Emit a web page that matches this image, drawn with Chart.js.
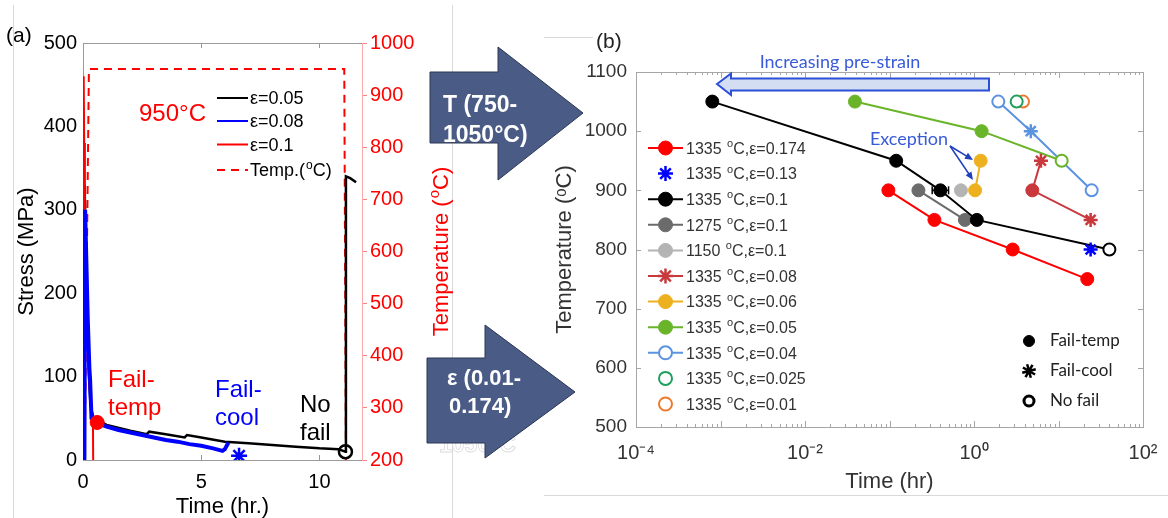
<!DOCTYPE html>
<html>
<head>
<meta charset="utf-8">
<script src="https://cdn.jsdelivr.net/npm/chart.js@4.4.1/dist/chart.umd.min.js"></script>
<style>
  html, body { margin: 0; padding: 0; background: #fff; overflow: hidden; }
  #page { position: relative; width: 1168px; height: 518px; }
  canvas { position: absolute; top: 0; }
  #chartA { left: 0; }
  #chartB { left: 540px; }
  .rule { position: absolute; background: #d9d9d9; }
  svg { position: absolute; left: 0; top: 0; }
</style>
</head>
<body>
<div id="page">
  <div class="rule" style="left:13px;top:5px;width:1px;height:513px"></div>
  <div class="rule" style="left:452px;top:5px;width:1px;height:513px"></div>
  <div class="rule" style="left:544px;top:37px;width:49px;height:1px"></div>
  <div class="rule" style="left:544px;top:495px;width:624px;height:1px"></div>
  <canvas id="chartA" width="455" height="518"></canvas>
  <canvas id="chartB" width="628" height="518"></canvas>
  <svg width="1168" height="518" font-family="'Liberation Sans', Arial, sans-serif">
    <text x="439" y="452" font-size="23" font-weight="bold" fill="#ffffff" stroke="#dcdcdc" stroke-width="0.8">1050°C</text>
    <polygon points="430,72 498,72 498,47 583,113 498,180 498,143 430,143" fill="#4a5c86" stroke="#2c3752" stroke-width="1"/>
    <text x="443" y="112" font-size="23" font-weight="bold" fill="#ffffff">T (750-</text>
    <text x="443" y="142" font-size="23" font-weight="bold" fill="#ffffff">1050°C)</text>
    <polygon points="427,358 485,358 485,325 575,392 485,458 485,443 427,443" fill="#4a5c86" stroke="#2c3752" stroke-width="1"/>
    <text x="447" y="385" font-size="22" font-weight="bold" fill="#ffffff">ε (0.01-</text>
    <text x="449" y="413" font-size="22" font-weight="bold" fill="#ffffff">0.174)</text>
  </svg>
</div>
<script>
// ================= Panel (a): stress relaxation and furnace temperature =================
const timeTicksA = [0, 5, 10];
const stressTicks = [0, 100, 200, 300, 400, 500];
const tempTicksA = [200, 300, 400, 500, 600, 700, 800, 900, 1000];

const strain005Time   = [0.03, 0.07, 0.12, 0.18, 0.25, 0.32, 0.45, 1.0, 2.0, 2.7, 2.8, 3.5, 4.3, 4.4, 5.0, 6.0, 7.0, 8.0, 9.0, 10.0, 10.8, 11.1, 11.12, 11.3, 11.55];
const strain005Stress = [0, 330, 240, 160, 100, 65, 50, 42, 35, 31, 34, 31, 27, 30, 27, 22, 20, 18, 16, 14, 13, 10, 340, 338, 333];

const strain008Time   = [0.06, 0.09, 0.14, 0.20, 0.27, 0.30, 0.36, 0.6, 1.0, 1.5, 2.0, 2.5, 3.0, 3.5, 4.0, 4.5, 5.0, 5.5, 5.9, 6.0, 6.15];
const strain008Stress = [0, 300, 240, 170, 110, 96, 50, 44, 40, 36, 33, 30, 27, 24, 22, 19, 17, 14, 11, 13, 21];

const strain01Time   = [0.00, 0.03, 0.05, 0.08, 0.13, 0.20, 0.26, 0.33, 0.42, 0.43];
const strain01Stress = [0, 460, 380, 300, 220, 150, 95, 65, 50, 0];

const furnaceTime = [0.07, 0.25, 11.05, 11.12];
const furnaceTemp = [200, 950, 950, 200];

const failTempTimeA = [0.6];
const failTempStressA = [45];
const failCoolTimeA = [6.6];
const failCoolStressA = [5];
const noFailTimeA = [11.1];
const noFailStressA = [10];

const legendLabelsA = ['ε=0.05', 'ε=0.08', 'ε=0.1', 'Temp.(ᵒC)'];

// ================= Panel (b): failure map, temperature vs time =================
const timeTicksB = [1e-4, 1e-2, 1, 1e2];
const timeTickLabelsB = ['10⁻⁴', '10⁻²', '10⁰', '10²'];
const tempTicksB = [500, 600, 700, 800, 900, 1000, 1100];

const s174Time = [0.097, 0.34, 2.87, 21.9];
const s174Temp = [900, 850, 800, 750];
const s174Outcome = ['temp', 'temp', 'temp', 'temp'];

const s13Time = [24];
const s13Temp = [800];
const s13Outcome = ['cool'];

const s10Time = [0.0008, 0.12, 0.40, 1.08, 40];
const s10Temp = [1050, 950, 900, 850, 800];
const s10Outcome = ['temp', 'temp', 'temp', 'temp', 'none'];

const s10ErrTime = [0.32, 0.50];
const s10ErrTemp = [900, 900];

const s1275Time = [0.22, 0.78];
const s1275Temp = [900, 850];
const s1275Outcome = ['temp', 'temp'];

const s1150Time = [0.70];
const s1150Temp = [900];
const s1150Outcome = ['temp'];

const s08Time = [6.2, 4.9, 24];
const s08Temp = [950, 900, 850];
const s08Outcome = ['cool', 'temp', 'cool'];

const s06Time = [1.2, 1.03];
const s06Temp = [950, 900];
const s06Outcome = ['temp', 'temp'];

const s05Time = [0.039, 1.23, 10.9];
const s05Temp = [1050, 1000, 950];
const s05Outcome = ['temp', 'temp', 'none'];

const s04Time = [1.94, 4.7, 24.7];
const s04Temp = [1050, 1000, 900];
const s04Outcome = ['none', 'cool', 'none'];

const s025Time = [3.2];
const s025Temp = [1050];
const s025Outcome = ['none'];

const s01Time = [3.8];
const s01Temp = [1050];
const s01Outcome = ['none'];

const seriesLabelsB = [
  '1335 ᵒC,ε=0.174', '1335 ᵒC,ε=0.13', '1335 ᵒC,ε=0.1', '1275 ᵒC,ε=0.1',
  '1150 ᵒC,ε=0.1', '1335 ᵒC,ε=0.08', '1335 ᵒC,ε=0.06', '1335 ᵒC,ε=0.05',
  '1335 ᵒC,ε=0.04', '1335 ᵒC,ε=0.025', '1335 ᵒC,ε=0.01'
];
const outcomeLabelsB = ['Fail-temp', 'Fail-cool', 'No fail'];

// ----------------------------------------------------------------
const SANS = "'Liberation Sans', Arial, Helvetica, sans-serif";
const HUMAN = "Lato, 'Open Sans', sans-serif";
const zip = (xs, ys) => xs.map((x, i) => ({ x, y: ys[i] }));
const fixTicks = (values) => (scale) => { scale.ticks = values.map(v => ({ value: v })); };
const plainNumber = (v) => String(v);

// text with a raised small "o" wherever the modifier letter ᵒ appears
function drawSupText(ctx, text, x, yMid, size, color, family, align) {
  ctx.save();
  ctx.fillStyle = color;
  ctx.textAlign = 'left';
  ctx.textBaseline = 'alphabetic';
  const base = yMid + size * 0.36;
  const supSize = Math.round(size * 0.68);
  const parts = text.split('ᵒ');
  let total = 0;
  parts.forEach((part, i) => {
    if (i > 0) { ctx.font = `${supSize}px ${family}`; total += ctx.measureText('o').width + 1; }
    ctx.font = `${size}px ${family}`; total += ctx.measureText(part).width;
  });
  let cx = align === 'center' ? x - total / 2 : x;
  parts.forEach((part, i) => {
    if (i > 0) {
      ctx.font = `${supSize}px ${family}`;
      ctx.fillText('o', cx + 1, base - size * 0.42);
      cx += ctx.measureText('o').width + 1;
    }
    ctx.font = `${size}px ${family}`;
    ctx.fillText(part, cx, base);
    cx += ctx.measureText(part).width;
  });
  ctx.restore();
}

// ---------------- panel (a) decorations ----------------
const panelAOverlay = {
  id: 'panelAOverlay',
  afterDraw(chart) {
    const { ctx, chartArea: a, scales } = chart;
    ctx.save();
    // top frame edge and inner x ticks
    ctx.strokeStyle = '#9a9a9a';
    ctx.lineWidth = 1;
    ctx.beginPath();
    ctx.moveTo(a.left, a.top + 0.5); ctx.lineTo(a.right, a.top + 0.5);
    timeTicksA.slice(1).forEach(v => {
      const px = Math.round(scales.x.getPixelForValue(v)) + 0.5;
      ctx.moveTo(px, a.top); ctx.lineTo(px, a.top + 5);
      ctx.moveTo(px, a.bottom); ctx.lineTo(px, a.bottom - 5);
    });
    ctx.stroke();

    // right-hand axis title, reading bottom to top
    ctx.save();
    ctx.translate(440, (a.top + a.bottom) / 2);
    ctx.rotate(-Math.PI / 2);
    drawSupText(ctx, 'Temperature (ᵒC)', 0, 0, 22, '#ff0000', SANS, 'center');
    ctx.restore();

    // panel tag
    ctx.fillStyle = '#000';
    ctx.font = `21px ${SANS}`;
    ctx.textBaseline = 'middle';
    ctx.fillText('(a)', 6, 36);

    // legend (line samples)
    const legendRows = [98, 121, 144.5, 170];
    chart.data.datasets.filter(d => d.legendIndex !== undefined).forEach(d => {
      const y = legendRows[d.legendIndex];
      ctx.save();
      ctx.strokeStyle = d.borderColor;
      ctx.lineWidth = 2;
      ctx.setLineDash(d.borderDash || []);
      ctx.beginPath(); ctx.moveTo(217, y); ctx.lineTo(248, y); ctx.stroke();
      ctx.restore();
      drawSupText(ctx, d.label, 250, y, 18, '#000', SANS);
    });

    // annotations
    ctx.textBaseline = 'alphabetic';
    ctx.font = `24px ${SANS}`;
    ctx.fillStyle = '#ff0000';
    ctx.fillText('950°C', 139, 121);
    ctx.fillText('Fail-', 108, 387);
    ctx.fillText('temp', 108, 415);
    ctx.fillStyle = '#0000ff';
    ctx.fillText('Fail-', 215, 397);
    ctx.fillText('cool', 215, 425);
    ctx.fillStyle = '#000';
    ctx.fillText('No', 300, 412);
    ctx.fillText('fail', 300, 440);
    ctx.restore();
  }
};

new Chart(document.getElementById('chartA'), {
  type: 'line',
  data: {
    datasets: [
      { label: 'Fail-temp', data: zip(failTempTimeA, failTempStressA), showLine: false, yAxisID: 'y',
        pointStyle: 'circle', pointRadius: 7, pointBackgroundColor: '#ff0000', pointBorderColor: '#ff0000', pointBorderWidth: 1 },
      { label: 'Fail-cool', data: zip(failCoolTimeA, failCoolStressA), showLine: false, yAxisID: 'y',
        pointStyle: 'star', pointRadius: 8, pointBackgroundColor: '#0000ff', pointBorderColor: '#0000ff', pointBorderWidth: 2.5 },
      { label: 'No fail', data: zip(noFailTimeA, noFailStressA), showLine: false, yAxisID: 'y',
        pointStyle: 'circle', pointRadius: 6.5, pointBackgroundColor: 'rgba(0,0,0,0)', pointBorderColor: '#000', pointBorderWidth: 2.5 },
      { label: legendLabelsA[1], legendIndex: 1, data: zip(strain008Time, strain008Stress), yAxisID: 'y',
        borderColor: '#0000ff', borderWidth: 4, pointRadius: 0 },
      { label: legendLabelsA[2], legendIndex: 2, data: zip(strain01Time, strain01Stress), yAxisID: 'y',
        borderColor: '#ff0000', borderWidth: 2, pointRadius: 0 },
      { label: legendLabelsA[0], legendIndex: 0, data: zip(strain005Time, strain005Stress), yAxisID: 'y',
        borderColor: '#000000', borderWidth: 2.5, pointRadius: 0 },
      { label: legendLabelsA[3], legendIndex: 3, data: zip(furnaceTime, furnaceTemp), yAxisID: 'y2',
        borderColor: '#ff0000', borderWidth: 2, borderDash: [8, 6], pointRadius: 0 }
    ]
  },
  options: {
    responsive: false,
    animation: false,
    devicePixelRatio: 1,
    layout: { padding: { top: 43, left: 0, right: 0, bottom: 0 } },
    elements: { line: { tension: 0 } },
    plugins: { legend: { display: false }, tooltip: { enabled: false } },
    scales: {
      x: {
        type: 'linear', min: 0, max: 11.8,
        afterBuildTicks: fixTicks(timeTicksA),
        afterFit: s => { s.height = 58; s.paddingLeft = 0; s.paddingRight = 0; },
        grid: { display: false, drawTicks: false },
        border: { display: true, color: '#9a9a9a' },
        ticks: { color: '#000', font: { family: SANS, size: 20 }, padding: 10, maxRotation: 0, callback: plainNumber },
        title: { display: true, text: 'Time (hr.)', color: '#000', font: { family: SANS, size: 22, lineHeight: 1 }, padding: 0 }
      },
      y: {
        position: 'left', min: 0, max: 500,
        afterBuildTicks: fixTicks(stressTicks),
        afterFit: s => { s.width = 83; },
        grid: { display: false, drawTicks: false },
        border: { display: true, color: '#9a9a9a' },
        ticks: { color: '#000', font: { family: SANS, size: 20 }, padding: 6, callback: plainNumber },
        title: { display: true, text: 'Stress (MPa)', color: '#000', font: { family: SANS, size: 22 }, padding: { top: 14, bottom: 0 } }
      },
      y2: {
        position: 'right', min: 200, max: 1000,
        afterBuildTicks: fixTicks(tempTicksA),
        afterFit: s => { s.width = 93; },
        grid: { display: true, drawOnChartArea: false, drawTicks: true, tickLength: 5, color: '#ff8080' },
        border: { display: true, color: '#ffaaaa' },
        ticks: { color: '#ff0000', font: { family: SANS, size: 20 }, padding: 3, callback: plainNumber },
        title: { display: false }
      }
    }
  },
  plugins: [panelAOverlay]
});

// ---------------- panel (b) ----------------
const markerFor = (outcome, color) => {
  if (outcome === 'temp') return { style: 'circle', radius: 6.5, bg: color, border: color, bw: 1 };
  if (outcome === 'cool') return { style: 'star', radius: 7, bg: color, border: color, bw: 2.5 };
  return { style: 'circle', radius: 6, bg: '#ffffff', border: color, bw: 2 };
};

const seriesB = [
  { label: seriesLabelsB[0], time: s174Time, temp: s174Temp, outcome: s174Outcome, color: '#ff0000', line: true },
  { label: seriesLabelsB[1], time: s13Time, temp: s13Temp, outcome: s13Outcome, color: '#0000ff', line: false },
  { label: seriesLabelsB[2], time: s10Time, temp: s10Temp, outcome: s10Outcome, color: '#000000', line: true },
  { label: seriesLabelsB[3], time: s1275Time, temp: s1275Temp, outcome: s1275Outcome, color: '#6b6b6b', line: true },
  { label: seriesLabelsB[4], time: s1150Time, temp: s1150Temp, outcome: s1150Outcome, color: '#b4b4b4', line: true },
  { label: seriesLabelsB[5], time: s08Time, temp: s08Temp, outcome: s08Outcome, color: '#c8383d', line: true },
  { label: seriesLabelsB[6], time: s06Time, temp: s06Temp, outcome: s06Outcome, color: '#edb120', line: true },
  { label: seriesLabelsB[7], time: s05Time, temp: s05Temp, outcome: s05Outcome, color: '#6ab42a', line: true },
  { label: seriesLabelsB[8], time: s04Time, temp: s04Temp, outcome: s04Outcome, color: '#5b93e0', line: true },
  { label: seriesLabelsB[9], time: s025Time, temp: s025Temp, outcome: s025Outcome, color: '#1f9f5e', line: false },
  { label: seriesLabelsB[10], time: s01Time, temp: s01Temp, outcome: s01Outcome, color: '#ec7a2e', line: false }
];

const datasetsB = seriesB.map((s, i) => {
  const m = s.outcome.map(o => markerFor(o, s.color));
  return {
    label: s.label,
    legendIndex: i,
    data: zip(s.time, s.temp),
    showLine: s.line,
    borderColor: s.color,
    borderWidth: 2,
    pointStyle: m.map(k => k.style),
    pointRadius: m.map(k => k.radius),
    pointBackgroundColor: m.map(k => k.bg),
    pointBorderColor: m.map(k => k.border),
    pointBorderWidth: m.map(k => k.bw)
  };
});
// horizontal scatter bar on the 1335 °C, ε=0.1 point at 900 °C
datasetsB.splice(3, 0, {
  label: 'range',
  data: zip(s10ErrTime, s10ErrTemp),
  showLine: true,
  borderColor: '#000', borderWidth: 1.5,
  pointStyle: 'line', pointRotation: 90, pointRadius: 4, pointBorderWidth: 1.5,
  pointBorderColor: '#000'
});

const panelBOverlay = {
  id: 'panelBOverlay',
  afterDraw(chart) {
    const { ctx, chartArea: a, scales } = chart;
    const xs = scales.x, ys = scales.y;
    ctx.save();
    // frame and inner ticks
    ctx.strokeStyle = '#a6a6a6';
    ctx.lineWidth = 1;
    ctx.strokeRect(a.left + 0.5, a.top + 0.5, a.right - a.left, a.bottom - a.top);
    ctx.beginPath();
    for (let e = -4; e <= 2; e++) {
      for (let m = 1; m < 10; m++) {
        const v = m * Math.pow(10, e);
        if (v > 100) break;
        const px = Math.round(xs.getPixelForValue(v)) + 0.5;
        const len = m === 1 ? 6 : 3;
        ctx.moveTo(px, a.bottom); ctx.lineTo(px, a.bottom - len);
        ctx.moveTo(px, a.top); ctx.lineTo(px, a.top + len);
      }
    }
    tempTicksB.forEach(v => {
      const py = Math.round(ys.getPixelForValue(v)) + 0.5;
      ctx.moveTo(a.left, py); ctx.lineTo(a.left + 5, py);
      ctx.moveTo(a.right, py); ctx.lineTo(a.right - 5, py);
    });
    ctx.stroke();

    // panel tag
    ctx.fillStyle = '#222';
    ctx.font = `21px ${SANS}`;
    ctx.textBaseline = 'middle';
    ctx.textAlign = 'left';
    ctx.fillText('(b)', 56, 42);

    // "Increasing pre-strain" arrow
    ctx.fillStyle = '#d3def2';
    ctx.strokeStyle = '#2b4fd6';
    ctx.lineWidth = 2;
    ctx.beginPath();
    ctx.moveTo(177, 84);
    ctx.lineTo(191, 73.5);
    ctx.lineTo(191, 78.5);
    ctx.lineTo(449, 78.5);
    ctx.lineTo(449, 90.5);
    ctx.lineTo(191, 90.5);
    ctx.lineTo(191, 95);
    ctx.closePath();
    ctx.fill();
    ctx.stroke();
    ctx.fillStyle = '#3a5bd9';
    ctx.font = `18px ${HUMAN}`;
    ctx.textAlign = 'center';
    ctx.fillText('Increasing pre-strain', 300, 62);

    // "Exception" callout
    ctx.fillText('Exception', 369, 139);
    ctx.strokeStyle = '#1f3fbf';
    ctx.fillStyle = '#1f3fbf';
    ctx.lineWidth = 1.5;
    [[433, 160], [433, 180]].forEach(([tx, ty]) => {
      const fx = 410, fy = 146;
      const ang = Math.atan2(ty - fy, tx - fx);
      ctx.beginPath(); ctx.moveTo(fx, fy); ctx.lineTo(tx - 6 * Math.cos(ang), ty - 6 * Math.sin(ang)); ctx.stroke();
      ctx.beginPath();
      ctx.moveTo(tx, ty);
      ctx.lineTo(tx - 8 * Math.cos(ang) + 3.5 * Math.sin(ang), ty - 8 * Math.sin(ang) - 3.5 * Math.cos(ang));
      ctx.lineTo(tx - 8 * Math.cos(ang) - 3.5 * Math.sin(ang), ty - 8 * Math.sin(ang) + 3.5 * Math.cos(ang));
      ctx.closePath(); ctx.fill();
    });

    // series legend
    chart.data.datasets.filter(d => d.legendIndex !== undefined).forEach(d => {
      const y = 148 + d.legendIndex * 25.6;
      if (d.showLine) {
        ctx.strokeStyle = d.borderColor;
        ctx.lineWidth = 2;
        ctx.beginPath(); ctx.moveTo(108, y); ctx.lineTo(143, y); ctx.stroke();
      }
      const i0 = 0;
      ctx.fillStyle = d.pointBackgroundColor[i0];
      ctx.strokeStyle = d.pointBorderColor[i0];
      ctx.lineWidth = d.pointBorderWidth[i0];
      Chart.helpers.drawPoint(ctx, {
        pointStyle: d.pointStyle[i0], radius: d.pointRadius[i0] + 0.5, rotation: 0, borderWidth: d.pointBorderWidth[i0]
      }, 125.5, y);
      drawSupText(ctx, d.label, 146, y, 16, '#333', SANS);
    });

    // outcome key
    const keyRows = [341, 371, 401];
    const keyStyles = [
      { pointStyle: 'circle', radius: 5.5, fill: '#000', stroke: '#000', bw: 1 },
      { pointStyle: 'star', radius: 7, fill: '#000', stroke: '#000', bw: 2.5 },
      { pointStyle: 'circle', radius: 5, fill: '#fff', stroke: '#000', bw: 3 }
    ];
    outcomeLabelsB.forEach((t, i) => {
      const k = keyStyles[i];
      ctx.fillStyle = k.fill; ctx.strokeStyle = k.stroke; ctx.lineWidth = k.bw;
      Chart.helpers.drawPoint(ctx, { pointStyle: k.pointStyle, radius: k.radius, rotation: i === 1 ? 30 : 0, borderWidth: k.bw }, 489, keyRows[i]);
      ctx.fillStyle = '#222';
      ctx.font = `17px ${HUMAN}`;
      ctx.textAlign = 'left';
      ctx.textBaseline = 'middle';
      ctx.fillText(t, 510, keyRows[i]);
    });
    ctx.restore();
  }
};

new Chart(document.getElementById('chartB'), {
  type: 'line',
  data: { datasets: datasetsB },
  options: {
    responsive: false,
    animation: false,
    devicePixelRatio: 1,
    layout: { padding: { top: 72, left: 0, right: 25, bottom: 0 } },
    elements: { line: { tension: 0 } },
    plugins: { legend: { display: false }, tooltip: { enabled: false } },
    scales: {
      x: {
        type: 'logarithmic', min: 1e-4, max: 1e2,
        afterBuildTicks: fixTicks(timeTicksB),
        afterFit: s => { s.height = 91; s.paddingLeft = 0; s.paddingRight = 0; },
        grid: { display: false, drawTicks: false },
        border: { display: false },
        ticks: { color: '#333', font: { family: SANS, size: 20 }, padding: 14, maxRotation: 0, autoSkip: false,
                 callback: (v, i) => timeTickLabelsB[i] },
        title: { display: true, text: 'Time (hr)', color: '#333', font: { family: SANS, size: 22 }, padding: { top: 0, bottom: 23 } }
      },
      y: {
        min: 500, max: 1100,
        afterBuildTicks: fixTicks(tempTicksB),
        afterFit: s => { s.width = 96; },
        grid: { display: false, drawTicks: false },
        border: { display: false },
        ticks: { color: '#333', font: { family: SANS, size: 19 }, padding: 9, callback: plainNumber },
        title: { display: true, text: 'Temperature (ᵒC)', color: '#333', font: { family: SANS, size: 22 }, padding: { top: 12, bottom: 0 } }
      }
    }
  },
  plugins: [panelBOverlay]
});
</script>
</body>
</html>
